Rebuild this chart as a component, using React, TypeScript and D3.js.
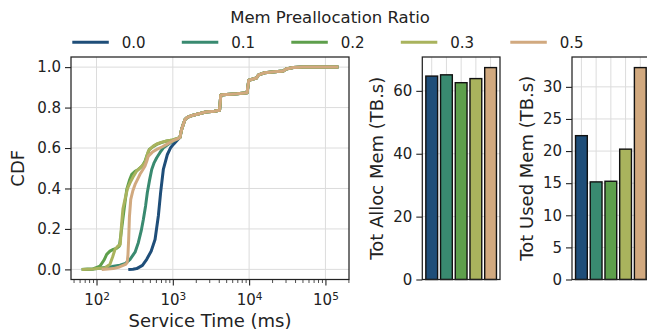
import React, { useEffect, useRef } from "react";
import * as d3 from "d3";

const ratios = ["0.0", "0.1", "0.2", "0.3", "0.5"];
const colors = ["#1f4e79", "#398a70", "#5e9f4c", "#a9b35d", "#d1a97f"];

// totals per ratio (TB.s)
const allocMem = [64.7, 65.1, 62.6, 63.9, 67.4];
const usedMem = [22.4, 15.2, 15.3, 20.3, 33.0];

// CDF, service time in ms: the lower part differs per ratio
const cdf00X = [261, 300, 336, 400, 455, 520, 585, 646, 692, 751, 848, 930, 1016, 1150];
const cdf00Y = [0, 0.001, 0.004, 0.02, 0.05, 0.09, 0.148, 0.264, 0.379, 0.494, 0.568, 0.6, 0.618, 0.64];

const cdf01X = [64, 90, 122, 160, 203, 240, 275, 320, 353, 385, 411, 440, 463, 495, 529, 570, 615, 680, 752, 880, 1016, 1150];
const cdf01Y = [0, 0.002, 0.008, 0.014, 0.021, 0.03, 0.05, 0.085, 0.132, 0.19, 0.247, 0.315, 0.379, 0.44, 0.494, 0.528, 0.552, 0.578, 0.601, 0.62, 0.635, 0.645];

const cdf02X = [64, 90, 111, 125, 136, 150, 166, 185, 199, 210, 224, 236, 249, 270, 290, 320, 353, 395, 432, 460, 492, 550, 615, 720, 832, 1000, 1150];
const cdf02Y = [0, 0.002, 0.016, 0.045, 0.074, 0.09, 0.099, 0.105, 0.115, 0.18, 0.264, 0.33, 0.395, 0.44, 0.47, 0.485, 0.494, 0.51, 0.535, 0.565, 0.593, 0.607, 0.618, 0.628, 0.635, 0.64, 0.648];

const cdf03X = [64, 90, 130, 150, 162, 175, 190, 205, 212, 222, 236, 255, 275, 300, 336, 380, 432, 478, 520, 556, 615, 700, 832, 1000, 1150];
const cdf03Y = [0, 0.002, 0.008, 0.025, 0.06, 0.099, 0.115, 0.123, 0.214, 0.3, 0.346, 0.4, 0.428, 0.455, 0.486, 0.505, 0.527, 0.585, 0.6, 0.61, 0.62, 0.628, 0.635, 0.64, 0.648];

const cdf05X = [117, 140, 166, 200, 240, 252, 258, 264, 270, 281, 300, 320, 345, 371, 400, 432, 460, 478, 540, 615, 720, 832, 1000, 1150];
const cdf05Y = [0, 0.002, 0.004, 0.012, 0.025, 0.033, 0.07, 0.15, 0.26, 0.346, 0.39, 0.42, 0.445, 0.47, 0.49, 0.511, 0.54, 0.56, 0.58, 0.593, 0.605, 0.618, 0.635, 0.645];

// shared upper part (all ratios coincide above ~1.2 s)
const tailX = [1240, 1300, 1380, 1450, 1550, 1700, 1900, 2270, 2700, 3500, 4100, 4250, 5000, 7000, 9400, 9900, 11000, 12500, 13300, 16000, 20000, 28000, 30500, 38000, 50000, 148000];
const tailY = [0.652, 0.69, 0.72, 0.742, 0.752, 0.758, 0.763, 0.771, 0.778, 0.782, 0.787, 0.862, 0.865, 0.868, 0.873, 0.935, 0.94, 0.946, 0.962, 0.972, 0.976, 0.981, 0.991, 0.998, 1.0, 1.0];

const cdfX = [cdf00X, cdf01X, cdf02X, cdf03X, cdf05X];
const cdfY = [cdf00Y, cdf01Y, cdf02Y, cdf03Y, cdf05Y];

const cdfTicks = [0, 0.2, 0.4, 0.6, 0.8, 1.0];
const logTicks = [1e2, 1e3, 1e4, 1e5];
const allocTicks = [0, 20, 40, 60];
const usedTicks = [0, 5, 10, 15, 20, 25, 30];

const FONT = "DejaVu Sans, sans-serif";
const TOP = 57;
const BOTTOM = 279.5;
const GRID = "#dcdcdc";
const INK = "#222";

const App = () => {
  const svgRef = useRef<SVGSVGElement>(null);

  useEffect(() => {
    const svg = d3.select(svgRef.current);
    svg.selectAll("*").remove();

    const styleAxis = (g: any) => {
      g.select(".domain").remove();
      g.selectAll("line").attr("stroke", INK).attr("stroke-width", 1.1);
      g.selectAll("text").attr("fill", INK).style("font-size", "15px").style("font-family", FONT);
    };

    // ---------- CDF ----------
    const cL = 71, cR = 349;
    const x = d3.scaleLog().domain([46.3, 203700]).range([cL, cR]);
    const y = d3.scaleLinear().domain([-0.05, 1.05]).range([BOTTOM, TOP]);

    const cdf = svg.append("g");
    cdf.selectAll(".vgrid").data(logTicks).join("line")
      .attr("x1", (d) => x(d)).attr("x2", (d) => x(d))
      .attr("y1", TOP).attr("y2", BOTTOM)
      .attr("stroke", GRID).attr("stroke-width", 1);
    cdf.selectAll(".hgrid").data(cdfTicks).join("line")
      .attr("x1", cL).attr("x2", cR)
      .attr("y1", (d) => y(d)).attr("y2", (d) => y(d))
      .attr("stroke", GRID).attr("stroke-width", 1);

    svg.append("clipPath").attr("id", "cdfClip")
      .append("rect").attr("x", cL).attr("y", TOP).attr("width", cR - cL).attr("height", BOTTOM - TOP);

    const cdfLine = d3.line<[number, number]>()
      .x((d) => x(d[0]))
      .y((d) => y(d[1]));

    cdfX.forEach((xs, i) => {
      const pts: [number, number][] = xs.map((v, j) => [v, cdfY[i][j]]);
      tailX.forEach((v, j) => pts.push([v, tailY[j]]));
      cdf.append("path")
        .datum(pts)
        .attr("clip-path", "url(#cdfClip)")
        .attr("fill", "none")
        .attr("stroke", colors[i])
        .attr("stroke-width", 3)
        .attr("stroke-linejoin", "round")
        .attr("stroke-linecap", "butt")
        .attr("d", cdfLine);
    });

    cdf.append("g")
      .attr("transform", `translate(${cL},0)`)
      .call(d3.axisLeft(y).tickValues(cdfTicks).tickFormat(d3.format(".1f")).tickSize(6).tickPadding(4))
      .call(styleAxis);

    const minor = x.ticks().filter((v) => !logTicks.includes(v) && v > 46.3);
    cdf.append("g")
      .attr("transform", `translate(0,${BOTTOM})`)
      .call(d3.axisBottom(x).tickValues(minor).tickFormat(() => "").tickSize(3.5))
      .call(styleAxis)
      .call((g) => g.selectAll("line").attr("stroke-width", 0.8));
    const xAxis = cdf.append("g")
      .attr("transform", `translate(0,${BOTTOM})`)
      .call(d3.axisBottom(x).tickValues(logTicks).tickFormat(() => "").tickSize(6))
      .call(styleAxis);
    xAxis.selectAll(".tick text").each(function (d: any) {
      const t = d3.select(this as SVGTextElement).attr("y", 25.5).attr("dy", null);
      t.append("tspan").text("10");
      t.append("tspan").attr("dy", "-0.45em").style("font-size", "10.5px").text(String(Math.round(Math.log10(d))));
    });

    cdf.append("rect")
      .attr("x", cL).attr("y", TOP).attr("width", cR - cL).attr("height", BOTTOM - TOP)
      .attr("fill", "none").attr("stroke", INK).attr("stroke-width", 1.25);

    cdf.append("text")
      .attr("x", (cL + cR) / 2).attr("y", 327)
      .attr("text-anchor", "middle")
      .style("font-size", "18px").style("font-family", FONT).attr("fill", INK)
      .text("Service Time (ms)");
    cdf.append("text")
      .attr("transform", `translate(24,${(TOP + BOTTOM) / 2}) rotate(-90)`)
      .attr("text-anchor", "middle")
      .style("font-size", "18px").style("font-family", FONT).attr("fill", INK)
      .text("CDF");

    // ---------- bar panels ----------
    const drawBars = (left: number, values: number[], ticks: number[], label: string, labelX: number) => {
      const right = left + 77.7;
      const bx = d3.scaleBand().domain(ratios).range([left, right]).paddingInner(0.2).paddingOuter(0.24);
      const by = d3.scaleLinear().domain([0, (d3.max(values) as number) * 1.05]).range([BOTTOM, TOP]);
      const g = svg.append("g");

      g.selectAll(".hgrid").data(ticks).join("line")
        .attr("x1", left).attr("x2", right)
        .attr("y1", (d) => by(d)).attr("y2", (d) => by(d))
        .attr("stroke", GRID).attr("stroke-width", 1);
      g.selectAll(".vgrid").data(ratios).join("line")
        .attr("x1", (d) => (bx(d) as number) + bx.bandwidth() / 2)
        .attr("x2", (d) => (bx(d) as number) + bx.bandwidth() / 2)
        .attr("y1", TOP).attr("y2", BOTTOM)
        .attr("stroke", GRID).attr("stroke-width", 1);

      g.selectAll(".bar").data(values).join("rect")
        .attr("x", (_, i) => bx(ratios[i]) as number)
        .attr("width", bx.bandwidth())
        .attr("y", (d) => by(d))
        .attr("height", (d) => BOTTOM - by(d))
        .attr("fill", (_, i) => colors[i])
        .attr("stroke", "#111")
        .attr("stroke-width", 1.4);

      g.append("g")
        .attr("transform", `translate(${left},0)`)
        .call(d3.axisLeft(by).tickValues(ticks).tickFormat(d3.format("d")).tickSize(6).tickPadding(4))
        .call(styleAxis);

      g.append("rect")
        .attr("x", left).attr("y", TOP).attr("width", right - left).attr("height", BOTTOM - TOP)
        .attr("fill", "none").attr("stroke", INK).attr("stroke-width", 1.25);

      g.append("text")
        .attr("transform", `translate(${labelX},${(TOP + BOTTOM) / 2}) rotate(-90)`)
        .attr("text-anchor", "middle")
        .style("font-size", "18px").style("font-family", FONT).attr("fill", INK)
        .text(label);
    };

    drawBars(422.3, allocMem, allocTicks, "Tot Alloc Mem (TB.s)", 382.5);
    drawBars(572, usedMem, usedTicks, "Tot Used Mem (TB.s)", 532.5);

    // ---------- legend ----------
    svg.append("text")
      .attr("x", 330).attr("y", 22.7)
      .attr("text-anchor", "middle")
      .style("font-size", "16.5px").style("font-family", FONT).attr("fill", INK)
      .text("Mem Preallocation Ratio");

    const legend = svg.selectAll(".legend").data(ratios).join("g")
      .attr("transform", (_, i) => `translate(${72.3 + i * 109.5},42.3)`);
    legend.append("line")
      .attr("x1", 0).attr("x2", 36.5)
      .attr("stroke", (_, i) => colors[i])
      .attr("stroke-width", 3);
    legend.append("text")
      .attr("x", 49.4).attr("y", 6)
      .style("font-size", "15px").style("font-family", FONT).attr("fill", INK)
      .text((d) => d);
  }, []);

  return (
    <svg
      ref={svgRef}
      width={647}
      height={332}
      style={{ position: "absolute", left: 0, top: 0, background: "#fff" }}
    />
  );
};

export default App;
